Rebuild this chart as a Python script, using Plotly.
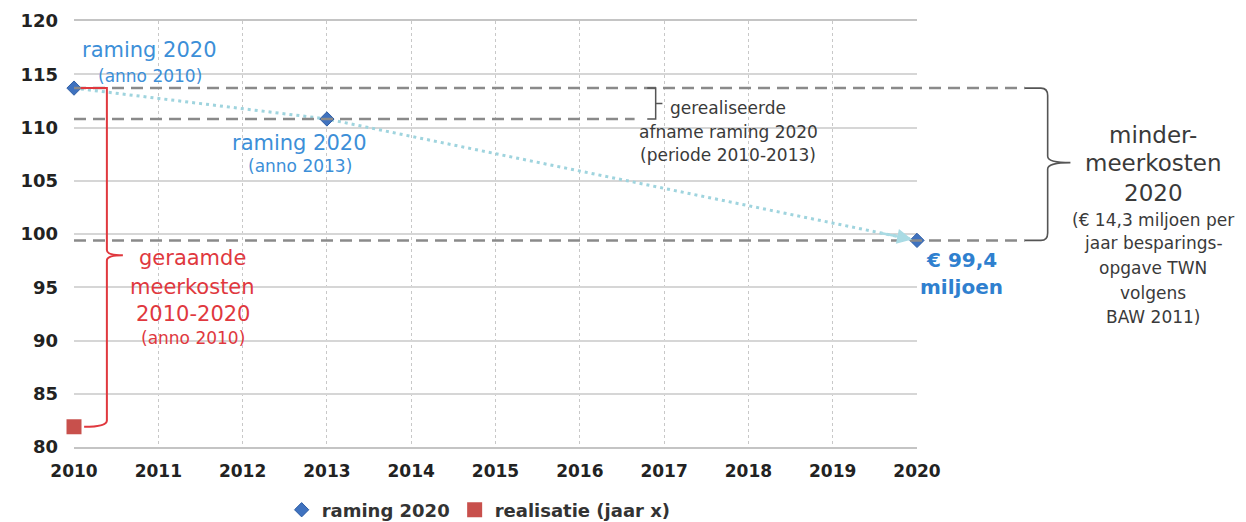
import plotly.graph_objects as go

# ---- data ----
raming_years = [2010, 2013, 2020]
raming_values = [113.7, 110.8, 99.4]
realisatie_years = [2010]
realisatie_values = [81.9]
x_ticks = list(range(2010, 2021))
y_ticks = [80, 85, 90, 95, 100, 105, 110, 115, 120]

FONT = "DejaVu Sans"
BLUE_TXT = "#3c8fd8"
RED = "#e0383e"
GRAY_TXT = "#3a3a3a"
DASH_GRAY = "#8a8a8a"

fig = go.Figure()

# dotted trend line
fig.add_trace(go.Scatter(
    x=raming_years, y=raming_values, mode="lines",
    line=dict(color="#9fd4de", width=3, dash="3px,4px"),
    showlegend=False, hoverinfo="skip"))

fig.add_trace(go.Scatter(
    x=raming_years, y=raming_values, mode="markers", name="raming 2020",
    marker=dict(symbol="diamond", size=11, color="#3f72bf",
                line=dict(color="#2f5ea5", width=1)),
    cliponaxis=False))

fig.add_trace(go.Scatter(
    x=realisatie_years, y=realisatie_values, mode="markers",
    name="realisatie (jaar x)",
    marker=dict(symbol="square", size=15, color="#c8504c"),
    cliponaxis=False))

shapes = []
# dashed reference lines
x0 = raming_years[0]
shapes.append(dict(type="line", xref="x", yref="y", x0=x0, x1=2016.65,
                   y0=raming_values[1], y1=raming_values[1],
                   line=dict(color=DASH_GRAY, width=2.5, dash="12px,7px")))
for v in (raming_values[0], raming_values[2]):
    shapes.append(dict(type="line", xref="paper", yref="y", x0=0, x1=1.128,
                       y0=v, y1=v,
                       line=dict(color=DASH_GRAY, width=2.5, dash="12px,7px")))

# small bracket (gerealiseerde afname)
yt, yb = raming_values[0], raming_values[1]
ym = (yt + yb) / 2
shapes.append(dict(type="path", xref="x", yref="y",
                   path=f"M 2016.80,{yt} L 2016.90,{yt} L 2016.90,{yb} L 2016.80,{yb} "
                        f"M 2016.90,{ym} L 2016.98,{ym}",
                   line=dict(color="#555555", width=1.5)))

# big curly brace (minder-meerkosten)
yt, yb = raming_values[0], raming_values[2]
ym = 106.7
xa, xb, xc, xd = 1.128, 1.147, 1.155, 1.182
shapes.append(dict(type="path", xref="paper", yref="y",
                   path=(f"M {xa},{yt} L {xb},{yt} Q {xc},{yt} {xc},{yt-0.7} "
                         f"L {xc},{ym+0.6} Q {xc},{ym} {xd},{ym} "
                         f"Q {xc},{ym} {xc},{ym-0.6} L {xc},{yb+0.7} "
                         f"Q {xc},{yb} {xb},{yb} L {xa},{yb}"),
                   line=dict(color="#555555", width=1.6)))

# red bracket (geraamde meerkosten)
yt = raming_values[0]
yb = realisatie_values[0]
ym = 98.0
xv, xt = 2010.39, 2010.58
shapes.append(dict(type="path", xref="x", yref="y",
                   path=(f"M 2010.08,{yt} L {xv},{yt} L {xv},{ym+0.5} "
                         f"Q {xv},{ym} {xt},{ym} Q {xv},{ym} {xv},{ym-0.5} "
                         f"L {xv},{yb+0.6} Q {xv},{yb} 2010.12,{yb}"),
                   line=dict(color=RED, width=2)))

annotations = []


def txt(x, y, text, size, color, bold=False, xanchor="center", xref="x"):
    annotations.append(dict(
        x=x, y=y, xref=xref, yref="y", text=text, showarrow=False,
        xanchor=xanchor, yanchor="middle",
        font=dict(family=FONT, size=size, color=color,
                  weight="bold" if bold else "normal")))


# blue labels
txt(2010.90, 117.28, "raming 2020", 21, BLUE_TXT)
txt(2010.90, 114.84, "(anno 2010)", 17, BLUE_TXT)
txt(2012.68, 108.54, "raming 2020", 21, BLUE_TXT)
txt(2012.68, 106.38, "(anno 2013)", 17, BLUE_TXT)
txt(1.053, 97.56, "€ 99,4", 20, "#2f80cf", bold=True, xref="paper")
txt(1.053, 95.02, "miljoen", 20, "#2f80cf", bold=True, xref="paper")

# gray middle labels
txt(2017.05, 111.83, "gerealiseerde", 17, GRAY_TXT, xanchor="left")
txt(2017.76, 109.58, "afname raming 2020", 17, GRAY_TXT)
txt(2017.76, 107.42, "(periode 2010-2013)", 17, GRAY_TXT)

# red labels
txt(2011.41, 97.75, "geraamde", 21, RED)
txt(2011.41, 95.02, "meerkosten", 21, RED)
txt(2011.41, 92.49, "2010-2020", 21, RED)
txt(2011.41, 90.23, "(anno 2010)", 17, RED)

# right labels
RX = 1.280
txt(RX, 109.30, "minder-", 23, GRAY_TXT, xref="paper")
txt(RX, 106.67, "meerkosten", 23, GRAY_TXT, xref="paper")
txt(RX, 103.85, "2020", 23, GRAY_TXT, xref="paper")
txt(RX, 101.31, "(€ 14,3 miljoen per", 17, GRAY_TXT, xref="paper")
txt(RX, 99.15, "jaar besparings-", 17, GRAY_TXT, xref="paper")
txt(RX, 96.81, "opgave TWN", 17, GRAY_TXT, xref="paper")
txt(RX, 94.46, "volgens", 17, GRAY_TXT, xref="paper")
txt(RX, 92.21, "BAW 2011)", 17, GRAY_TXT, xref="paper")

# arrow head at the end of the trend line
annotations.append(dict(x=raming_years[2], y=raming_values[2], xref="x", yref="y",
                        ax=2019.55, ay=100.13, axref="x", ayref="y",
                        showarrow=True, arrowhead=2, arrowsize=1.2, arrowwidth=2.5,
                        arrowcolor="#a9dbe4", standoff=5, text=""))

# page body has an 8px margin; size the figure so it fits the window
fig.update_layout(
    width=1238, height=514,
    margin=dict(l=66, r=329, t=13, b=75, autoexpand=False),
    paper_bgcolor="white", plot_bgcolor="white",
    font=dict(family=FONT, color="#2a2a2a"),
    shapes=shapes, annotations=annotations,
    legend=dict(orientation="h", x=0.48, y=-0.148, xanchor="center",
                yanchor="middle", font=dict(family=FONT, size=18, color="#333333",
                                            weight="bold"),
                itemwidth=30, tracegroupgap=0),
    xaxis=dict(range=[2010, 2020], tickvals=x_ticks, ticktext=[str(t) for t in x_ticks],
               showgrid=True, gridcolor="#c8c8c8", griddash="dot", gridwidth=1,
               showline=True, linecolor="#c4c4c4", linewidth=1.5, mirror=True,
               zeroline=False, ticks="", ticklabelstandoff=8, automargin=False,
               tickfont=dict(family=FONT, size=17, color="#222222", weight="bold")),
    yaxis=dict(range=[80, 120], tickvals=y_ticks,
               showgrid=True, gridcolor="#d6d6d6", gridwidth=1.5,
               showline=False, zeroline=False, ticks="", ticklabelstandoff=15,
               automargin=False,
               tickfont=dict(family=FONT, size=18, color="#222222", weight="bold")),
)

fig.write_html("out.html")
